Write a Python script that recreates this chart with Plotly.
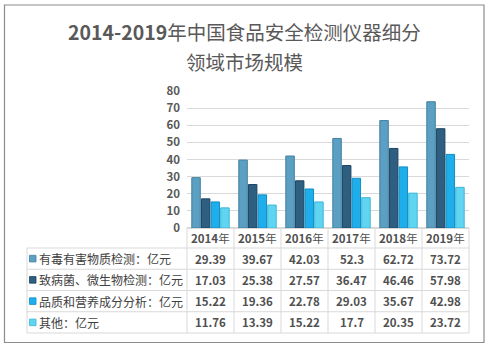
import plotly.graph_objects as go

years = ["2014年", "2015年", "2016年", "2017年", "2018年", "2019年"]
series_names = ["有毒有害物质检测：亿元", "致病菌、微生物检测：亿元", "品质和营养成分分析：亿元", "其他：亿元"]
toxic = [29.39, 39.67, 42.03, 52.3, 62.72, 73.72]
pathogen = [17.03, 25.38, 27.57, 36.47, 46.46, 57.98]
quality = [15.22, 19.36, 22.78, 29.03, 35.67, 42.98]
other = [11.76, 13.39, 15.22, 17.7, 20.35, 23.72]
value_labels = [
    ["29.39", "39.67", "42.03", "52.3", "62.72", "73.72"],
    ["17.03", "25.38", "27.57", "36.47", "46.46", "57.98"],
    ["15.22", "19.36", "22.78", "29.03", "35.67", "42.98"],
    ["11.76", "13.39", "15.22", "17.7", "20.35", "23.72"],
]
y_ticks = [0, 10, 20, 30, 40, 50, 60, 70, 80]

fills = ["#5B9FC2", "#2E5E80", "#1EAEEC", "#5FD5F2"]
edges = ["#41809F", "#1C4461", "#128DC4", "#3DB5D6"]

W, H = 489, 345
L, R, T, B = 187, 469, 91, 228  # plot area in pixels
FONT = "Noto Sans CJK SC"


def px(xp):
    return (xp - L) / (R - L)


def py(yp):
    return (B - yp) / (B - T)


fig = go.Figure()
for name, vals, fc, ec in zip(series_names, [toxic, pathogen, quality, other], fills, edges):
    fig.add_trace(go.Bar(x=years, y=vals, name=name,
                         marker=dict(color=fc, line=dict(color=ec, width=1))))

shapes = []
ann = []
shapes.append(dict(type="rect", xref="paper", yref="paper",
                   x0=px(4.5), x1=px(484), y0=py(5), y1=py(342.5),
                   line=dict(color="#8C8C8C", width=1.2), layer="below"))

col_w = (R - L) / len(years)
header_top, row_top = B, 248
row_h = 21.25
nrows = len(series_names)
tbl_left = 27
grid = "#D9D9D9"
for i in range(len(years) + 1):
    xx = L + i * col_w
    shapes.append(dict(type="line", xref="paper", yref="paper",
                       x0=px(xx), x1=px(xx), y0=py(header_top), y1=py(row_top + nrows * row_h),
                       line=dict(color=grid, width=1)))
shapes.append(dict(type="line", xref="paper", yref="paper",
                   x0=px(tbl_left), x1=px(tbl_left), y0=py(row_top), y1=py(row_top + nrows * row_h),
                   line=dict(color=grid, width=1)))
for r in range(nrows + 1):
    yy = row_top + r * row_h
    shapes.append(dict(type="line", xref="paper", yref="paper",
                       x0=px(tbl_left), x1=px(R), y0=py(yy), y1=py(yy),
                       line=dict(color=grid, width=1)))


def text(xp, yp, s, size, color="#404040", xanchor="center"):
    ann.append(dict(x=px(xp), y=py(yp), xref="paper", yref="paper", xanchor=xanchor, yanchor="middle",
                    text=s, showarrow=False, font=dict(family=FONT, size=size, color=color)))


for i, yr in enumerate(years):
    text(L + (i + 0.5) * col_w, (header_top + row_top) / 2, "<b>" + yr[:-1] + "</b>" + yr[-1], 11.5, "#505050")
for r, name in enumerate(series_names):
    yc = row_top + (r + 0.5) * row_h
    shapes.append(dict(type="rect", xref="paper", yref="paper",
                       x0=px(29.5), x1=px(36), y0=py(yc - 3.3), y1=py(yc + 3.3),
                       fillcolor=fills[r], line=dict(color=edges[r], width=0.8)))
    text(37, yc, name, 12, xanchor="left")
    for i, v in enumerate(value_labels[r]):
        text(L + (i + 0.5) * col_w, yc, "<b>" + v + "</b>", 11.5, "#505050")

text(244, 32, "<b>2014-2019</b>年中国食品安全检测仪器细分", 19.5, "#595959")
text(244, 62, "领域市场规模", 19.5, "#595959")

fig.update_layout(
    width=W, height=H,
    margin=dict(l=L, r=W - R, t=T, b=H - B),
    paper_bgcolor="white", plot_bgcolor="white",
    showlegend=False,
    barmode="group", bargap=0.18, bargroupgap=0.12,
    shapes=shapes, annotations=ann,
    xaxis=dict(type="category", showticklabels=False, showgrid=False, zeroline=False,
               showline=False, ticks=""),
    yaxis=dict(range=[0, 80], tickvals=y_ticks, ticktext=["<b>%d</b>" % t for t in y_ticks],
               showgrid=True, gridcolor="#D9D9D9", gridwidth=1,
               zeroline=True, zerolinecolor="#D9D9D9", showline=False, ticks="",
               tickfont=dict(family=FONT, size=11.5, color="#595959"), ticklabelstandoff=6),
)

fig.write_html("out.html")
